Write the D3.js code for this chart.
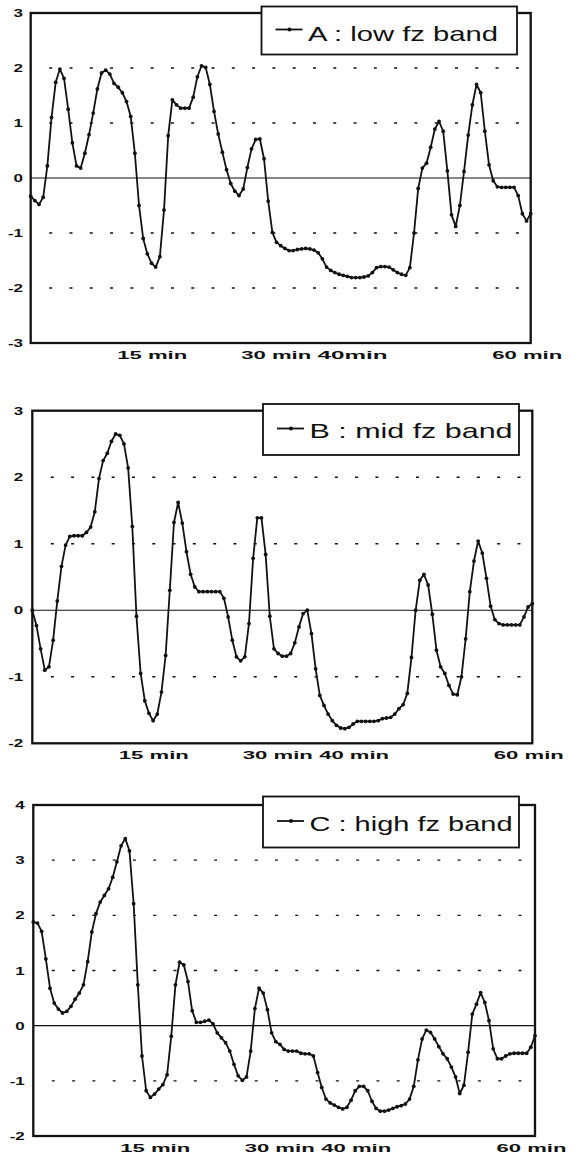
<!DOCTYPE html>
<html><head><meta charset="utf-8">
<script src="https://cdn.jsdelivr.net/npm/d3@7"></script>
<style>body{margin:0;background:#fff}svg{display:block}</style>
</head><body><svg id="chart" width="580" height="1153"></svg>
<script>
// time axis: samples every half minute, 0 .. 60 min
const timeMinutes = d3.range(0, 60.01, 0.5);

const seriesA = [
 -0.33,-0.41,-0.48,-0.35,0.22,1.10,1.74,1.98,1.81,1.25,
 0.64,0.22,0.18,0.45,0.79,1.18,1.62,1.91,1.96,1.89,
 1.72,1.65,1.55,1.39,1.12,0.45,-0.50,-1.10,-1.38,-1.55,
 -1.62,-1.43,-0.58,0.77,1.42,1.33,1.27,1.27,1.27,1.47,
 1.84,2.04,2.01,1.70,1.21,0.80,0.47,0.15,-0.10,-0.24,
 -0.32,-0.20,0.19,0.53,0.70,0.71,0.35,-0.42,-0.99,-1.17,
 -1.23,-1.28,-1.32,-1.32,-1.30,-1.29,-1.28,-1.29,-1.31,-1.36,
 -1.47,-1.62,-1.68,-1.72,-1.75,-1.77,-1.79,-1.81,-1.81,-1.81,
 -1.80,-1.78,-1.72,-1.63,-1.61,-1.61,-1.62,-1.67,-1.72,-1.75,
 -1.77,-1.63,-1.00,-0.19,0.18,0.27,0.56,0.89,1.03,0.85,
 0.13,-0.67,-0.88,-0.50,0.12,0.78,1.33,1.70,1.55,0.85,
 0.24,-0.05,-0.16,-0.17,-0.17,-0.17,-0.17,-0.32,-0.65,-0.78,
 -0.65
];

const seriesB = [
 0.00,-0.23,-0.58,-0.90,-0.85,-0.45,0.14,0.66,0.98,1.11,
 1.12,1.12,1.12,1.17,1.25,1.48,1.98,2.25,2.36,2.54,
 2.65,2.63,2.50,2.14,1.26,-0.09,-0.95,-1.36,-1.55,-1.66,
 -1.56,-1.23,-0.68,0.30,1.32,1.62,1.31,0.88,0.54,0.35,
 0.28,0.28,0.28,0.28,0.28,0.28,0.18,-0.10,-0.45,-0.70,
 -0.76,-0.70,-0.20,0.78,1.39,1.39,0.84,-0.09,-0.58,-0.65,
 -0.69,-0.69,-0.65,-0.49,-0.25,-0.05,0.00,-0.35,-0.88,-1.28,
 -1.43,-1.56,-1.66,-1.73,-1.77,-1.78,-1.76,-1.71,-1.67,-1.67,
 -1.67,-1.67,-1.67,-1.66,-1.63,-1.62,-1.61,-1.56,-1.48,-1.42,
 -1.25,-0.71,0.00,0.45,0.54,0.38,-0.06,-0.60,-0.85,-0.95,
 -1.13,-1.26,-1.27,-1.00,-0.43,0.28,0.74,1.04,0.86,0.48,
 0.06,-0.14,-0.20,-0.22,-0.22,-0.22,-0.22,-0.22,-0.10,0.05,
 0.10
];

const seriesC = [
 1.88,1.86,1.71,1.21,0.68,0.41,0.30,0.23,0.26,0.35,
 0.48,0.59,0.74,1.16,1.70,2.03,2.24,2.36,2.48,2.69,
 2.97,3.26,3.39,3.17,2.21,0.74,-0.55,-1.18,-1.30,-1.24,
 -1.15,-1.07,-0.89,-0.19,0.74,1.15,1.10,0.80,0.27,0.06,
 0.06,0.08,0.10,0.03,-0.13,-0.22,-0.31,-0.46,-0.70,-0.91,
 -0.99,-0.93,-0.46,0.31,0.68,0.59,0.29,-0.13,-0.29,-0.34,
 -0.43,-0.46,-0.46,-0.46,-0.50,-0.51,-0.51,-0.55,-0.85,-1.12,
 -1.33,-1.40,-1.44,-1.48,-1.51,-1.48,-1.35,-1.18,-1.10,-1.10,
 -1.18,-1.37,-1.50,-1.55,-1.55,-1.53,-1.50,-1.47,-1.45,-1.42,
 -1.33,-1.10,-0.62,-0.24,-0.08,-0.12,-0.24,-0.38,-0.51,-0.60,
 -0.75,-0.93,-1.23,-1.08,-0.48,0.21,0.39,0.60,0.42,0.09,
 -0.42,-0.60,-0.60,-0.55,-0.51,-0.50,-0.50,-0.50,-0.50,-0.39,
 -0.18
];

const yTicksA = [-3,-2,-1,0,1,2,3];
const yTicksB = [-2,-1,0,1,2,3];
const yTicksC = [-2,-1,0,1,2,3,4];

const xTickMinutes = [15, 30, 40, 60];
const xTickLabelsA = ["15 min", "30 min", "40min", "60 min"];
const xTickLabelsB = ["15 min", "30 min", "40 min", "60 min"];
const xTickLabelsC = ["15 min", "30 min", "40 min", "60 min"];

const legendA = "A : low fz band";
const legendB = "B : mid fz band";
const legendC = "C : high fz band";

// layout (positions / sizes only)
const panels = [
  {values: seriesA, yTicks: yTicksA, xLabels: xTickLabelsA, legend: legendA,
   x0: 30.7, x1: 530.7, yTop: 13, yBot: 343,
   box: {x: 261.5, y: 6.5, w: 255.5, h: 48}, legendLen: 190, ylabRight: 7.7},
  {values: seriesB, yTicks: yTicksB, xLabels: xTickLabelsB, legend: legendB,
   x0: 32.3, x1: 532.3, yTop: 410.7, yBot: 743.3,
   box: {x: 263, y: 404, w: 256, h: 51}, legendLen: 203, ylabRight: 9},
  {values: seriesC, yTicks: yTicksC, xLabels: xTickLabelsC, legend: legendC,
   x0: 33.3, x1: 535, yTop: 805, yBot: 1136,
   box: {x: 263, y: 796.5, w: 256, h: 51}, legendLen: 203, ylabRight: 8.5}
];
const labelShift = [-4, -5, -12, -4];
const FONT = "'Liberation Sans', Arial, Helvetica, sans-serif";

const svg = d3.select("#chart");

panels.forEach(p => {
  const x = d3.scaleLinear().domain([0, 60]).range([p.x0, p.x1]);
  const yDom = d3.extent(p.yTicks);
  const y = d3.scaleLinear().domain(yDom).range([p.yBot, p.yTop]);
  const g = svg.append("g");

  // dotted grid lines
  g.selectAll("line.grid")
    .data(p.yTicks.filter(t => t !== 0 && t !== yDom[0] && t !== yDom[1]))
    .join("line").attr("class", "grid")
    .attr("x1", p.x0 + 18.5).attr("x2", p.x0 + 489)
    .attr("y1", d => y(d)).attr("y2", d => y(d))
    .attr("stroke", "#111").attr("stroke-width", 1.4)
    .attr("stroke-dasharray", "3,17.29");

  // zero line
  g.append("line")
    .attr("x1", p.x0).attr("x2", p.x1)
    .attr("y1", y(0)).attr("y2", y(0))
    .attr("stroke", "#111").attr("stroke-width", 1.2);

  // data
  const data = timeMinutes.map((t, i) => ({t, v: p.values[i]}));
  g.append("path").datum(data)
    .attr("d", d3.line().x(d => x(d.t)).y(d => y(d.v)))
    .attr("fill", "none").attr("stroke", "#111")
    .attr("stroke-width", 1.8).attr("stroke-linejoin", "round");
  g.selectAll("circle.pt").data(data).join("circle").attr("class", "pt")
    .attr("cx", d => x(d.t)).attr("cy", d => y(d.v)).attr("r", 1.9)
    .attr("fill", "#111");

  // frame
  g.append("rect")
    .attr("x", p.x0).attr("y", p.yTop)
    .attr("width", p.x1 - p.x0).attr("height", p.yBot - p.yTop)
    .attr("fill", "none").attr("stroke", "#111").attr("stroke-width", 2.3);

  // y axis labels
  const ya = g.append("g").attr("transform", `translate(${p.x0},0)`)
    .call(d3.axisLeft(y).tickValues(p.yTicks).tickSize(0).tickFormat(d => String(d)));
  ya.select(".domain").remove();
  ya.selectAll("text")
    .attr("x", -p.ylabRight / 1.7).attr("dy", "0.35em")
    .attr("transform", "scale(1.7,1)")
    .attr("font-family", FONT).attr("font-size", 10).attr("font-weight", "bold")
    .attr("fill", "#111");

  // x axis labels
  const xa = g.append("g").attr("transform", `translate(0,${p.yBot})`)
    .call(d3.axisBottom(x).tickValues(xTickMinutes).tickSize(0)
      .tickFormat((d, i) => p.xLabels[i]));
  xa.select(".domain").remove();
  xa.selectAll("text")
    .attr("x", (d, i) => labelShift[i]).attr("y", 16).attr("dy", 0)
    .attr("textLength", 70).attr("lengthAdjust", "spacingAndGlyphs")
    .attr("font-family", FONT).attr("font-size", 10).attr("font-weight", "bold")
    .attr("fill", "#111");

  // legend
  const b = p.box;
  const lg = g.append("g");
  lg.append("rect").attr("x", b.x).attr("y", b.y).attr("width", b.w).attr("height", b.h)
    .attr("fill", "#fff").attr("stroke", "#111").attr("stroke-width", 1.8);
  const my = b.y + b.h / 2 - 1;
  lg.append("line").attr("x1", b.x + 14).attr("x2", b.x + 41).attr("y1", my).attr("y2", my)
    .attr("stroke", "#111").attr("stroke-width", 1.8);
  lg.append("circle").attr("cx", b.x + 28).attr("cy", my).attr("r", 2).attr("fill", "#111");
  lg.append("text").attr("x", b.x + 46.5).attr("y", b.y + 34)
    .attr("font-family", FONT).attr("font-size", 21).attr("fill", "#111")
    .attr("textLength", p.legendLen).attr("lengthAdjust", "spacingAndGlyphs")
    .text(p.legend);
});
</script>
</body></html>
